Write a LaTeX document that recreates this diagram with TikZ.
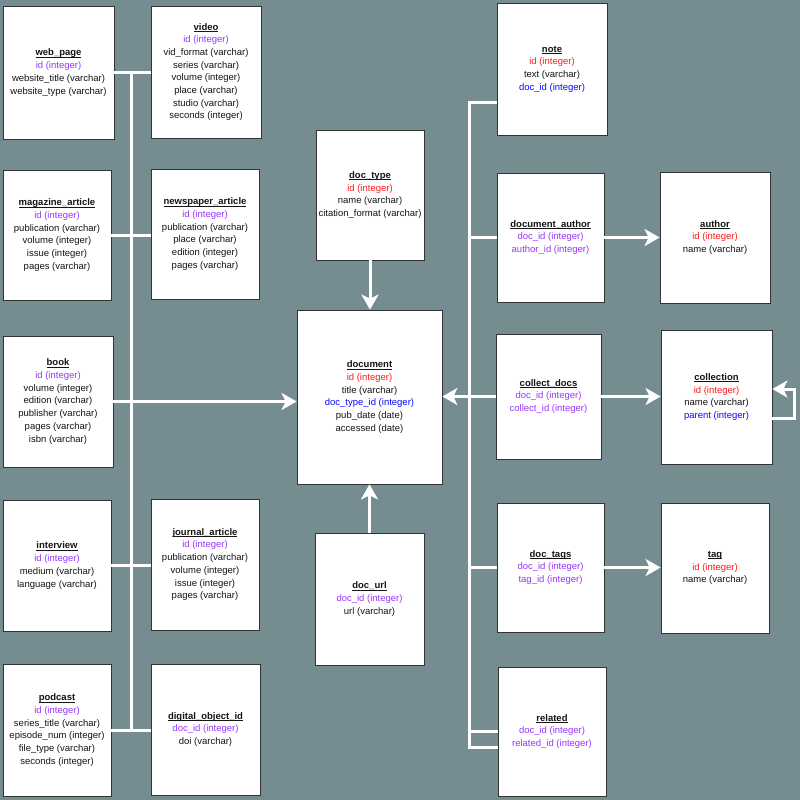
\documentclass[tikz,border=0pt]{standalone}
\usepackage{fontspec}
\setmainfont{Liberation Sans}
\usetikzlibrary{arrows.meta}
\definecolor{bg}{RGB}{117,140,144}
\definecolor{idp}{RGB}{153,51,255}
\definecolor{idr}{RGB}{255,25,25}
\definecolor{idb}{RGB}{10,10,255}
\definecolor{txt}{RGB}{20,20,20}
\newcommand{\ttl}[1]{\textbf{\setbox0\hbox{#1}\rlap{\rule[-1.7pt]{\wd0}{0.7pt}}\box0}}
\newcommand{\pk}[1]{\textcolor{idr}{#1}}
\newcommand{\fk}[1]{\textcolor{idb}{#1}}
\newcommand{\pp}[1]{\textcolor{idp}{#1}}
\tikzset{
  tbl/.style={draw=black!80, line width=0.8pt, fill=white, rectangle, align=center,
    text=txt, font=\fontsize{9.5}{12.7}\selectfont, inner sep=0pt},
  conn/.style={draw=white, line width=3pt},
  arr/.style={conn, -{Stealth[length=15pt,width=17pt,inset=4pt]}}
}
\begin{document}
\begin{tikzpicture}[x=1pt,y=-1pt]
\fill[bg] (0,0) rectangle (800,800);
\useasboundingbox (0,0) rectangle (800,800);
% left column
\node[tbl, minimum width=111pt, minimum height=133pt] (web_page) at (58.5,72.5)
  {\ttl{web\_page}\\ \pp{id (integer)}\\ website\_title (varchar)\\ website\_type (varchar)};
\node[tbl, minimum width=110pt, minimum height=132pt] (video) at (206,72)
  {\ttl{video}\\ \pp{id (integer)}\\ vid\_format (varchar)\\ series (varchar)\\ volume (integer)\\ place (varchar)\\ studio (varchar)\\ seconds (integer)};
\node[tbl, minimum width=108pt, minimum height=130pt] (magazine_article) at (57,235)
  {\ttl{magazine\_article}\\ \pp{id (integer)}\\ publication (varchar)\\ volume (integer)\\ issue (integer)\\ pages (varchar)};
\node[tbl, minimum width=108pt, minimum height=130pt] (newspaper_article) at (205,234)
  {\ttl{newspaper\_article}\\ \pp{id (integer)}\\ publication (varchar)\\ place (varchar)\\ edition (integer)\\ pages (varchar)};
\node[tbl, minimum width=110pt, minimum height=131pt] (book) at (58,401.5)
  {\ttl{book}\\ \pp{id (integer)}\\ volume (integer)\\ edition (varchar)\\ publisher (varchar)\\ pages (varchar)\\ isbn (varchar)};
\node[tbl, minimum width=108pt, minimum height=131pt] (interview) at (57,565.5)
  {\ttl{interview}\\ \pp{id (integer)}\\ medium (varchar)\\ language (varchar)};
\node[tbl, minimum width=108pt, minimum height=131pt] (journal_article) at (205,564.5)
  {\ttl{journal\_article}\\ \pp{id (integer)}\\ publication (varchar)\\ volume (integer)\\ issue (integer)\\ pages (varchar)};
\node[tbl, minimum width=108pt, minimum height=132pt] (podcast) at (57,730)
  {\ttl{podcast}\\ \pp{id (integer)}\\ series\_title (varchar)\\ episode\_num (integer)\\ file\_type (varchar)\\ seconds (integer)};
\node[tbl, minimum width=109pt, minimum height=131pt] (digital_object_id) at (205.5,729.5)
  {\ttl{digital\_object\_id}\\ \pp{doc\_id (integer)}\\ doi (varchar)};
% center
\node[tbl, minimum width=108pt, minimum height=130pt] (doc_type) at (370,195)
  {\ttl{doc\_type}\\ \pk{id (integer)}\\ name (varchar)\\ citation\_format (varchar)};
\node[tbl, minimum width=145pt, minimum height=174pt] (document) at (369.5,397)
  {\ttl{document}\\ \pk{id (integer)}\\ title (varchar)\\ \fk{doc\_type\_id (integer)}\\ pub\_date (date)\\ accessed (date)};
\node[tbl, minimum width=109pt, minimum height=132pt] (doc_url) at (369.5,599)
  {\ttl{doc\_url}\\ \pp{doc\_id (integer)}\\ url (varchar)};
% right
\node[tbl, minimum width=110pt, minimum height=132pt] (note) at (552,69)
  {\ttl{note}\\ \pk{id (integer)}\\ text (varchar)\\ \fk{doc\_id (integer)}};
\node[tbl, minimum width=107pt, minimum height=129pt] (document_author) at (550.5,237.5)
  {\ttl{document\_author}\\ \pp{doc\_id (integer)}\\ \pp{author\_id (integer)}};
\node[tbl, minimum width=110pt, minimum height=131pt] (author) at (715,237.5)
  {\ttl{author}\\ \pk{id (integer)}\\ name (varchar)};
\node[tbl, minimum width=105pt, minimum height=125pt] (collect_docs) at (548.5,396.5)
  {\ttl{collect\_docs}\\ \pp{doc\_id (integer)}\\ \pp{collect\_id (integer)}};
\node[tbl, minimum width=111pt, minimum height=134pt] (collection) at (716.5,397)
  {\ttl{collection}\\ \pk{id (integer)}\\ name (varchar)\\ \fk{parent (integer)}};
\node[tbl, minimum width=107pt, minimum height=129pt] (doc_tags) at (550.5,567.5)
  {\ttl{doc\_tags}\\ \pp{doc\_id (integer)}\\ \pp{tag\_id (integer)}};
\node[tbl, minimum width=108pt, minimum height=130pt] (tag) at (715,568)
  {\ttl{tag}\\ \pk{id (integer)}\\ name (varchar)};
\node[tbl, minimum width=108pt, minimum height=129pt] (related) at (552,731.5)
  {\ttl{related}\\ \pp{doc\_id (integer)}\\ \pp{related\_id (integer)}};
% trunks
\coordinate (ltx) at (131,0);
\coordinate (rtx) at (469,0);
% left connectors
\draw[conn] (web_page.east) -- (web_page.east -| video.west);
\draw[conn] (magazine_article.east) -- (magazine_article.east -| newspaper_article.west);
\draw[conn] (interview.east) -- (interview.east -| journal_article.west);
\draw[conn] (podcast.east) -- (podcast.east -| digital_object_id.west);
\draw[conn] (web_page.east -| ltx) -- (podcast.east -| ltx);
\draw[arr] (book.east) -- (book.east -| document.west);
% center arrows
\draw[arr] (doc_type.south) -- (doc_type.south |- document.north);
\draw[arr] (doc_url.north) -- (doc_url.north |- document.south);
% right connectors
\coordinate (noteC) at ([yshift=-33pt]note.west);
\coordinate (relB) at ([yshift=-15.5pt]related.west);
\draw[conn] (noteC) -| (rtx |- relB) -- (relB);
\draw[conn] (document_author.west) -- (document_author.west -| rtx);
\draw[conn] (doc_tags.west) -- (doc_tags.west -| rtx);
\draw[conn] (related.west) -- (related.west -| rtx);
\draw[arr] (collect_docs.west) -- (collect_docs.west -| document.east);
\draw[arr] (document_author.east) -- (document_author.east -| author.west);
\draw[arr] (collect_docs.east) -- (collect_docs.east -| collection.west);
\draw[arr] (doc_tags.east) -- (doc_tags.east -| tag.west);
\draw[arr] ([yshift=-21pt]collection.east) -- ++(22,0) |- ([yshift=8pt]collection.east);
\end{tikzpicture}
\end{document}
